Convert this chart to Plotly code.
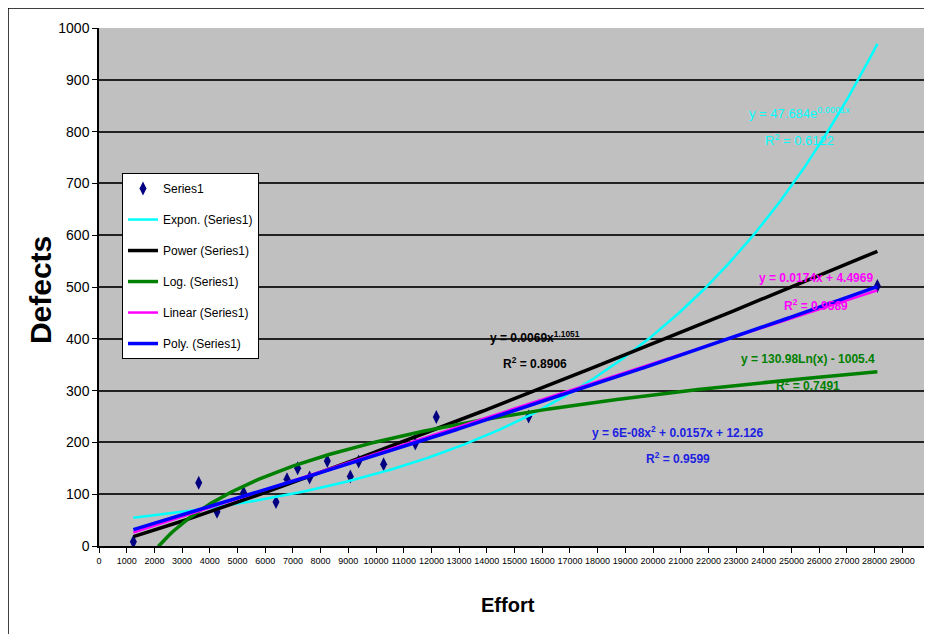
import numpy as np
import plotly.graph_objects as go

# ---- data ----
effort = [1241, 3600, 4260, 5220, 6390, 6787, 7170, 7603, 8242, 9072, 9372, 10275, 11419, 12177, 15510, 28100]
defects = [8, 122, 66, 103, 85, 129, 150, 132, 164, 134, 163, 158, 198, 249, 250, 502]

# trendline coefficients (as printed on the chart)
exp_coef = [47.684, 0.0001072]         # a * e^(b x)
power_coef = [0.0069, 1.1051]          # a * x^b
log_coef = [130.98, -1005.4]           # a * ln(x) + b
linear_coef = [0.0174, 4.4969]         # a * x + b
poly_coef = [6e-08, 0.0157, 12.126]    # a x^2 + b x + c

eq_labels = {
    "exp": ["y = 47.684e<sup>0.0001x</sup>", "R<sup>2</sup> = 0.6122"],
    "power": ["y = 0.0069x<sup>1.1051</sup>", "R<sup>2</sup> = 0.8906"],
    "log": ["y = 130.98Ln(x) - 1005.4", "R<sup>2</sup> = 0.7491"],
    "linear": ["y = 0.0174x + 4.4969", "R<sup>2</sup> = 0.9589"],
    "poly": ["y = 6E-08x<sup>2</sup> + 0.0157x + 12.126", "R<sup>2</sup> = 0.9599"],
}

x_ticks = list(range(0, 30001, 1000))
y_ticks = list(range(0, 1001, 100))

FONT = "Liberation Sans, Arial, sans-serif"

xs = np.linspace(min(effort), max(effort), 300)
fits = {
    "exp": exp_coef[0] * np.exp(exp_coef[1] * xs),
    "power": power_coef[0] * xs ** power_coef[1],
    "log": log_coef[0] * np.log(xs) + log_coef[1],
    "linear": linear_coef[0] * xs + linear_coef[1],
    "poly": poly_coef[0] * xs ** 2 + poly_coef[1] * xs + poly_coef[2],
}

styles = {
    "exp": ("Expon. (Series1)", "#00FFFF", 2.5),
    "power": ("Power (Series1)", "#000000", 3.5),
    "log": ("Log. (Series1)", "#008000", 3.5),
    "linear": ("Linear (Series1)", "#FF00FF", 2.5),
    "poly": ("Poly. (Series1)", "#0000FF", 3.5),
}

fig = go.Figure()
fig.add_trace(go.Scatter(
    x=effort, y=defects, mode="markers", name="Series1", legendgroup="s",
    marker=dict(symbol="diamond-tall", size=10, color="#000080"),
))
for key in ["exp", "power", "log", "linear", "poly"]:
    name, color, width = styles[key]
    ys = fits[key]
    fig.add_trace(go.Scatter(
        x=xs, y=np.where(ys < -5, np.nan, ys), mode="lines", name=name, legendgroup=key,
        line=dict(color=color, width=width),
    ))

# equation annotations: (key, x, y eq, y r2, color, bold)
ann_pos = [
    ("exp", 25300, 836, 784, "#00FFFF", False),
    ("power", 15750, 403, 353, "#000000", True),
    ("poly", 20900, 220, 170, "#2020E0", True),
    ("linear", 25900, 517, 465, "#FF00FF", True),
    ("log", 25600, 361, 311, "#008000", True),
]
for key, ax, ay1, ay2, color, bold in ann_pos:
    for txt, ay in zip(eq_labels[key], [ay1, ay2]):
        t = f"<b>{txt}</b>" if bold else txt
        fig.add_annotation(x=ax, y=ay, text=t, showarrow=False,
                           font=dict(family=FONT, size=12 if bold else 13, color=color))

# axis titles
fig.add_annotation(xref="paper", yref="paper", x=-0.0715, y=0.494, text="<b>Defects</b>",
                   textangle=-90, showarrow=False, xanchor="center", yanchor="middle",
                   font=dict(family=FONT, size=30, color="black"))
fig.add_annotation(xref="paper", yref="paper", x=0.496, y=-0.114, text="<b>Effort</b>",
                   showarrow=False, xanchor="center", yanchor="middle",
                   font=dict(family=FONT, size=20, color="black"))

# outer chart border
fig.add_shape(type="rect", xref="paper", yref="paper", x0=-0.1103, x1=1.2, y0=-0.4, y1=1.0386,
              line=dict(color="black", width=1.5), layer="below")

fig.update_layout(
    width=916, height=626,
    margin=dict(l=91, r=0, t=20, b=88, autoexpand=False),
    paper_bgcolor="white", plot_bgcolor="#C0C0C0",
    font=dict(family=FONT, color="black"),
    showlegend=True,
    legend=dict(x=0.0279, y=0.72, xanchor="left", yanchor="top",
                bgcolor="white", bordercolor="black", borderwidth=1,
                font=dict(family=FONT, size=12, color="black"),
                tracegroupgap=12, itemwidth=30),
    xaxis=dict(range=[0, 29783], tickmode="array", tickvals=x_ticks, ticktext=[str(v) for v in x_ticks],
               showgrid=False, zeroline=False, showline=True, linecolor="black", linewidth=2,
               ticks="outside", ticklen=5, tickcolor="black", tickfont=dict(family=FONT, size=9),
               automargin=False),
    yaxis=dict(range=[0, 1000], tickmode="array", tickvals=y_ticks, ticktext=[str(v) for v in y_ticks],
               showgrid=True, gridcolor="#222222", gridwidth=1.5, zeroline=False,
               showline=True, linecolor="black", linewidth=1.5,
               ticks="outside", ticklen=5, tickcolor="black", tickfont=dict(family=FONT, size=14),
               automargin=False),
)

fig.write_html("out.html")
